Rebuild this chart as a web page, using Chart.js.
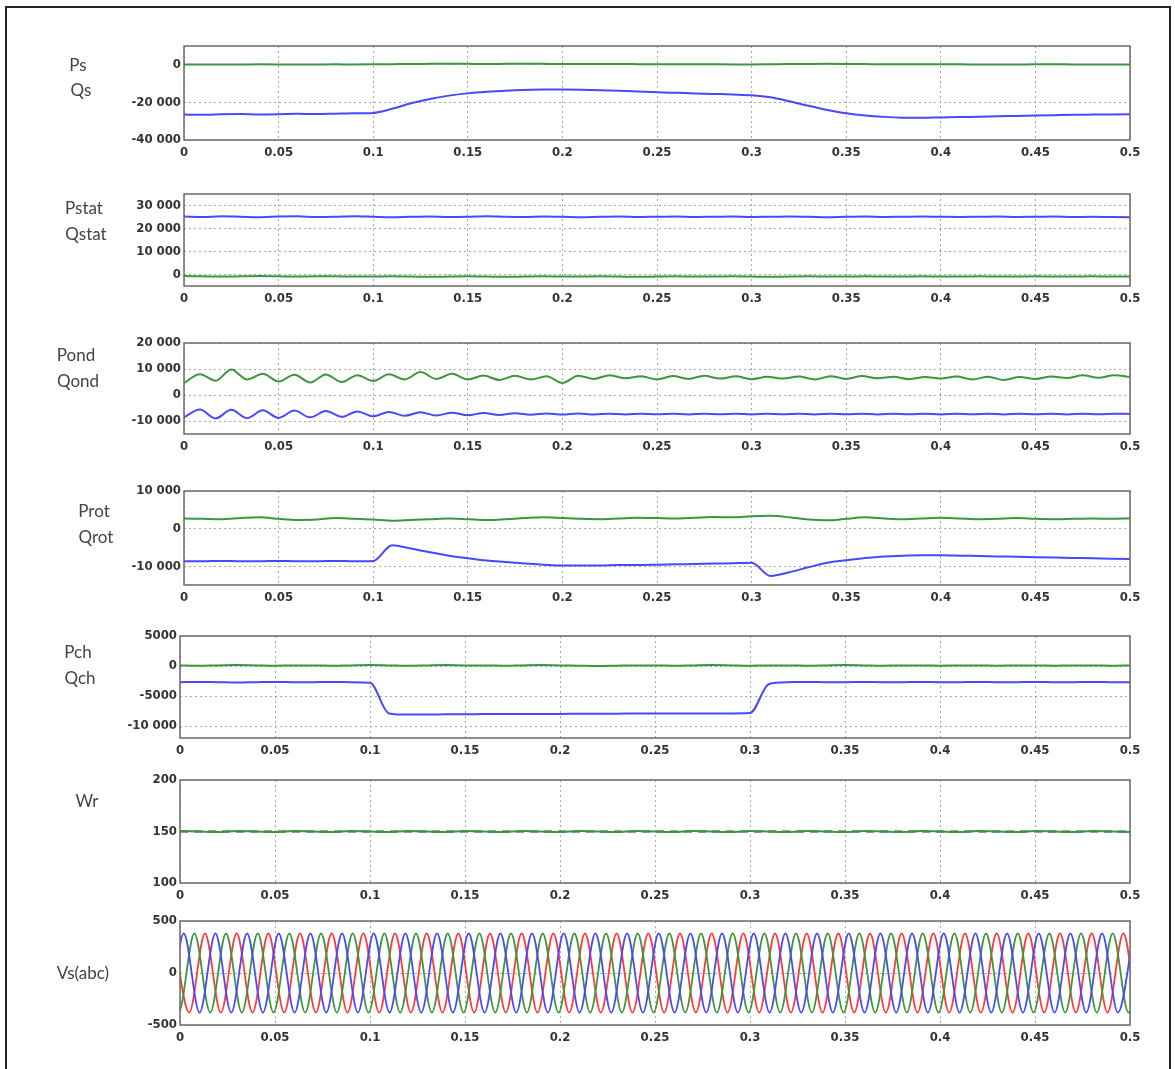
<!DOCTYPE html>
<html>
<head>
<meta charset="utf-8">
<script src="https://cdn.jsdelivr.net/npm/chart.js@4.4.1/dist/chart.umd.min.js"></script>
<style>
  html, body { margin: 0; padding: 0; background: #fff; }
  #page { position: relative; width: 1175px; height: 1069px; overflow: hidden; background: #fff; }
  #frame { position: absolute; left: 5px; top: 6px; width: 1162px; height: 1090px; border: 2px solid #222; }
  canvas { position: absolute; left: 0; }
  .lbl { position: absolute; font-family: Lato, "Open Sans", sans-serif; font-size: 17px; color: #444;
         line-height: 1; transform: translate(-50%, -50%); white-space: nowrap; }
</style>
</head>
<body>
<div id="page"><div id="frame"></div></div>
<script>
// x axis (time, s)
var xTickVals = [0, 0.05, 0.1, 0.15, 0.2, 0.25, 0.3, 0.35, 0.4, 0.45, 0.5];
var xTickText = ['0', '0.05', '0.1', '0.15', '0.2', '0.25', '0.3', '0.35', '0.4', '0.45', '0.5'];

// sample times: slow signals every 10 ms, converter signals every half cycle (1/120 s)
var tSlow = [];
for (var i = 0; i <= 50; i++) tSlow.push(+(i * 0.01).toFixed(2));
var tOnd = [];
for (var j = 0; j <= 60; j++) tOnd.push(j / 120);

// Ps / Qs
var psVals = [200, 150, 100, 150, 250, 200, 100, 150, 250, 200, 250, 350, 450, 500, 550, 500, 450, 500, 550, 500,
  450, 450, 400, 400, 350, 300, 300, 300, 250, 200, 200, 300, 400, 450, 500, 450, 400, 300, 300, 300,
  250, 250, 200, 200, 200, 250, 250, 200, 200, 150, 150];
var qsVals = [-26500, -26600, -26300, -26200, -26400, -26300, -26100, -26200, -26000, -25800, -25600, -23400, -20500, -18200, -16400, -15200, -14400, -13800, -13400, -13200,
  -13200, -13300, -13500, -13800, -14200, -14600, -14900, -15200, -15500, -15800, -16200, -17300, -19400, -21800, -24000, -25800, -27000, -27700, -28100, -28200,
  -28000, -27800, -27600, -27400, -27200, -27000, -26800, -26600, -26500, -26400, -26300];

// Pstat / Qstat
var pStatVals = [25200, 25000, 25300, 25100, 24900, 25200, 25300, 25000, 25100, 25300, 25100, 24900, 25100, 25200, 25000, 25100, 25300, 25100, 25000, 25200,
  25100, 24900, 25100, 25200, 25000, 25100, 25200, 25000, 25100, 25200, 25000, 25100, 25200, 25100, 24900, 25100, 25200, 25000, 25100, 25200,
  25100, 25000, 25100, 25200, 25000, 25100, 25200, 25000, 25100, 25000, 24900];
var qStatVals = [-700, -800, -900, -800, -700, -800, -900, -800, -800, -900, -900, -800, -900, -1000, -900, -800, -900, -1000, -900, -800,
  -900, -900, -800, -900, -1000, -900, -800, -900, -900, -800, -900, -1000, -900, -800, -900, -900, -800, -900, -900, -800,
  -900, -900, -800, -900, -900, -800, -900, -900, -800, -900, -900];

// Pond / Qond (half-cycle samples)
var pOndVals = [4600, 8000, 5500, 9800, 6000, 8200, 5200, 7800, 4800, 7900, 5000, 7600, 5400, 8000, 6000, 8800,
  6200, 8200, 6000, 7500, 5800, 7400, 6000, 7200, 4600, 7400, 6200, 7600, 6400, 7200, 6000, 7300,
  6200, 7400, 6300, 7200, 6100, 7000, 6300, 7100, 6000, 7200, 6200, 7300, 6400, 7000, 6100, 6900,
  6300, 7100, 6000, 7000, 5800, 6900, 6200, 7100, 6500, 7600, 6600, 7600, 7000];
var qOndVals = [-8600, -5600, -9000, -5700, -8900, -5900, -8800, -6000, -8600, -6200, -8400, -6300, -8200, -6500, -8000, -6600,
  -7900, -6800, -7800, -6900, -7700, -7000, -7600, -7100, -7500, -7100, -7500, -7200, -7500, -7200, -7400, -7200,
  -7500, -7200, -7400, -7200, -7500, -7200, -7400, -7200, -7500, -7200, -7400, -7200, -7500, -7200, -7400, -7200,
  -7500, -7200, -7400, -7200, -7500, -7200, -7400, -7200, -7500, -7200, -7400, -7200, -7300];

// Prot / Qrot
var pRotVals = [2700, 2600, 2500, 2800, 3000, 2600, 2300, 2400, 2800, 2600, 2400, 2100, 2300, 2500, 2700, 2500, 2300, 2500, 2800, 3000,
  2800, 2600, 2500, 2700, 2900, 2800, 2700, 2900, 3100, 3000, 3300, 3400, 3000, 2400, 2200, 2600, 3000, 2700, 2500, 2700,
  2900, 2700, 2500, 2600, 2800, 2600, 2500, 2600, 2700, 2600, 2700];
var qRotVals = [-8700, -8700, -8600, -8700, -8700, -8600, -8700, -8700, -8600, -8700, -8600, -4400, -5300, -6300, -7200, -7900, -8500, -8900, -9300, -9600,
  -9800, -9800, -9800, -9700, -9700, -9600, -9500, -9400, -9300, -9200, -9100, -12600, -11600, -10300, -9100, -8400, -7800, -7400, -7200, -7100,
  -7100, -7200, -7300, -7400, -7500, -7600, -7700, -7800, -7900, -8000, -8100];

// Pch / Qch
var pChVals = [100, 50, 100, 150, 100, 50, 100, 100, 50, 100, 150, 100, 50, 100, 150, 100, 100, 50, 100, 150,
  100, 50, 0, 50, 100, 100, 50, 100, 150, 100, 50, 100, 100, 50, 100, 150, 100, 50, 100, 100,
  50, 100, 100, 50, 100, 100, 50, 100, 100, 50, 100];
var qChVals = [-2700, -2650, -2700, -2750, -2700, -2650, -2700, -2700, -2650, -2700, -2800, -7900, -8100, -8100, -8050, -8050, -8000, -8000, -8000, -8000,
  -8000, -7950, -7950, -7950, -7900, -7900, -7900, -7900, -7900, -7900, -7850, -3000, -2700, -2650, -2700, -2700, -2650, -2700, -2700, -2650,
  -2700, -2700, -2650, -2700, -2700, -2650, -2700, -2700, -2650, -2700, -2700];

// Wr
var wrVals = [150.5, 150, 149.5, 150.5, 150, 149.5, 150.5, 150, 149.5, 150.5, 150, 149.5, 150.5, 150, 149.5, 150.5, 150, 149.5, 150.5, 150,
  149.5, 150.5, 150, 149.5, 150.5, 150, 149.5, 150.5, 150, 149.5, 150.5, 150, 149.5, 150.5, 150, 149.5, 150.5, 150, 149.5, 150.5,
  150, 149.5, 150.5, 150, 149.5, 150.5, 150, 149.5, 150.5, 150, 149.5];
var wrRefVals = [150, 150, 150, 150, 150, 150, 150, 150, 150, 150, 150, 150, 150, 150, 150, 150, 150, 150, 150, 150,
  150, 150, 150, 150, 150, 150, 150, 150, 150, 150, 150, 150, 150, 150, 150, 150, 150, 150, 150, 150,
  150, 150, 150, 150, 150, 150, 150, 150, 150, 150, 150];

// Vs(abc): successive extrema of each phase, 60 Hz
var vsHalfPeriod = 1 / 120;
var vsFirstPeak = [-0.0147, -0.0091, -0.0035];   // phase a (blue), b (green), c (red)
var vsPeaks = [380, -380, 380, -380, 380, -380, 380, -380, 380, -380, 380, -380, 380, -380, 380, -380,
  380, -380, 380, -380, 380, -380, 380, -380, 380, -380, 380, -380, 380, -380, 380, -380,
  380, -380, 380, -380, 380, -380, 380, -380, 380, -380, 380, -380, 380, -380, 380, -380,
  380, -380, 380, -380, 380, -380, 380, -380, 380, -380, 380, -380, 380, -380, 380];

var BLUE = '#4848ff', GREEN = '#3c963c', RED = '#ff3a3a', NAVY = '#1e3c64';

function pairs(t, v) {
  return v.map(function (y, k) { return { x: t[k], y: y }; });
}
function peakTimes(t0, n) {
  var out = [];
  for (var k = 0; k < n; k++) out.push(t0 + k * vsHalfPeriod);
  return out;
}
function fmtY(v) {
  var s = String(Math.abs(v));
  if (s.length > 4) s = s.slice(0, s.length - 3) + ' ' + s.slice(-3);
  return (v < 0 ? '-' : '') + s;
}

var framePlugin = {
  id: 'frame',
  afterDraw: function (chart) {
    var a = chart.chartArea, c = chart.ctx;
    c.save();
    c.strokeStyle = '#6a6a6a';
    c.lineWidth = 1.5;
    c.strokeRect(a.left, a.top, a.right - a.left, a.bottom - a.top);
    c.restore();
  }
};

var tickFont = { family: "'DejaVu Sans Condensed', 'DejaVu Sans', sans-serif", size: 13, weight: 'bold' };
var page = document.getElementById('page');

function line(data, color, extra) {
  var ds = { data: data, borderColor: color, borderWidth: 2, pointRadius: 0, fill: false,
    cubicInterpolationMode: 'monotone' };
  for (var k in extra) ds[k] = extra[k];
  return ds;
}

function makePlot(p) {
  var padTop = 12, xAxisH = 30;
  var h = (p.box.bottom - p.box.top) + padTop + xAxisH;
  var cv = document.createElement('canvas');
  cv.width = 1175; cv.height = h;
  cv.style.width = '1175px'; cv.style.height = h + 'px';
  cv.style.top = (p.box.top - padTop) + 'px';
  page.appendChild(cv);

  var gridOpts = { color: '#a8a8a8', lineWidth: 1, drawTicks: false };
  var borderOpts = { display: false, dash: [2, 3] };

  new Chart(cv, {
    type: 'line',
    data: { datasets: p.datasets },
    options: {
      responsive: false,
      animation: false,
      devicePixelRatio: 1,
      layout: { padding: { left: 0, top: padTop, right: 1175 - p.box.right, bottom: 0 } },
      plugins: { legend: { display: false }, tooltip: { enabled: false } },
      scales: {
        x: {
          type: 'linear', min: 0, max: 0.5,
          afterFit: function (s) { s.height = xAxisH; },
          afterBuildTicks: function (s) { s.ticks = xTickVals.map(function (v) { return { value: v }; }); },
          ticks: { font: tickFont, color: '#333', padding: 5, maxRotation: 0, autoSkip: false,
            callback: function (v, i) { return xTickText[i]; } },
          grid: gridOpts,
          border: borderOpts
        },
        y: {
          type: 'linear', min: p.min, max: p.max,
          afterFit: function (s) { s.width = p.box.left; },
          afterBuildTicks: function (s) { s.ticks = p.yTicks.map(function (v) { return { value: v }; }); },
          ticks: { font: tickFont, color: '#333', padding: 3, autoSkip: false,
            callback: function (v) { return fmtY(v); } },
          grid: gridOpts,
          border: borderOpts
        }
      }
    },
    plugins: [framePlugin]
  });
}

makePlot({ box: { left: 184, top: 46, right: 1130, bottom: 140 }, min: -40000, max: 10000,
  yTicks: [-40000, -20000, 0],
  datasets: [line(pairs(tSlow, psVals), GREEN), line(pairs(tSlow, qsVals), BLUE)] });

makePlot({ box: { left: 184, top: 194, right: 1130, bottom: 286 }, min: -5000, max: 35000,
  yTicks: [0, 10000, 20000, 30000],
  datasets: [line(pairs(tSlow, pStatVals), BLUE), line(pairs(tSlow, qStatVals), GREEN)] });

makePlot({ box: { left: 184, top: 343, right: 1130, bottom: 434 }, min: -15000, max: 20000,
  yTicks: [-10000, 0, 10000, 20000],
  datasets: [line(pairs(tOnd, pOndVals), GREEN), line(pairs(tOnd, qOndVals), BLUE)] });

makePlot({ box: { left: 184, top: 491, right: 1130, bottom: 585 }, min: -15000, max: 10000,
  yTicks: [-10000, 0, 10000],
  datasets: [line(pairs(tSlow, pRotVals), GREEN), line(pairs(tSlow, qRotVals), BLUE)] });

makePlot({ box: { left: 180, top: 636, right: 1130, bottom: 738 }, min: -12000, max: 5000,
  yTicks: [-10000, -5000, 0, 5000],
  datasets: [line(pairs(tSlow, pChVals), GREEN), line(pairs(tSlow, qChVals), BLUE)] });

makePlot({ box: { left: 180, top: 780, right: 1130, bottom: 883 }, min: 100, max: 200,
  yTicks: [100, 150, 200],
  datasets: [line(pairs(tSlow, wrVals), GREEN),
             line(pairs(tSlow, wrRefVals), NAVY, { borderDash: [8, 6] })] });

makePlot({ box: { left: 180, top: 921, right: 1130, bottom: 1025 }, min: -500, max: 500,
  yTicks: [-500, 0, 500],
  datasets: [
    line(pairs(peakTimes(vsFirstPeak[0], vsPeaks.length), vsPeaks), BLUE, { borderWidth: 1.8 }),
    line(pairs(peakTimes(vsFirstPeak[1], vsPeaks.length), vsPeaks), GREEN, { borderWidth: 1.8 }),
    line(pairs(peakTimes(vsFirstPeak[2], vsPeaks.length), vsPeaks), RED, { borderWidth: 1.8 })
  ] });

// signal names on the left
var names = [
  ['Ps', 78, 64], ['Qs', 81, 89],
  ['Pstat', 84, 207], ['Qstat', 86, 233],
  ['Pond', 76, 354], ['Qond', 78, 380],
  ['Prot', 94, 510], ['Qrot', 96, 536],
  ['Pch', 78, 651], ['Qch', 80, 677],
  ['Wr', 87, 800],
  ['Vs(abc)', 83, 972]
];
names.forEach(function (n) {
  var d = document.createElement('div');
  d.className = 'lbl';
  d.textContent = n[0];
  d.style.left = n[1] + 'px';
  d.style.top = n[2] + 'px';
  page.appendChild(d);
});
</script>
</body>
</html>
